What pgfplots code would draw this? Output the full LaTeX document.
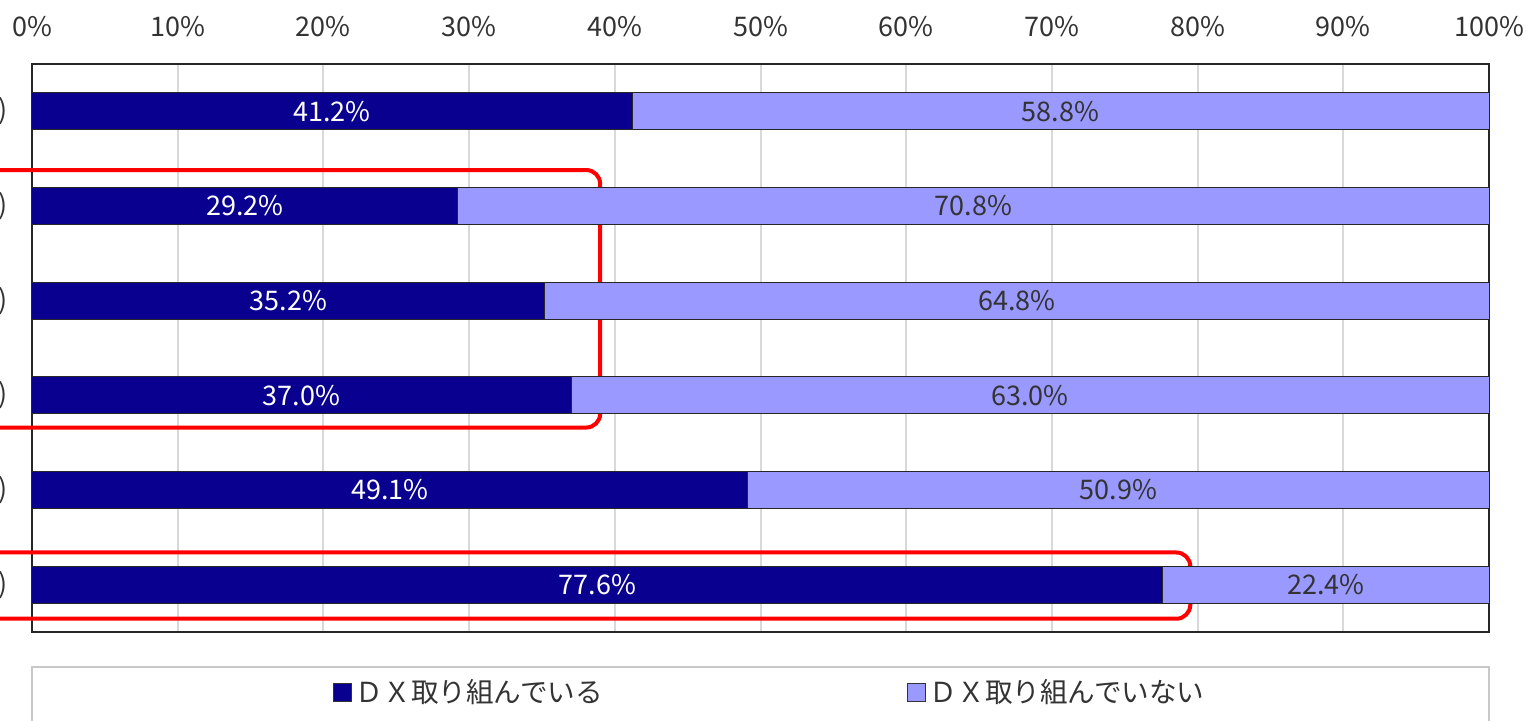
\documentclass[border=0pt]{standalone}
\usepackage{fontspec}
\setmainfont{Noto Sans CJK JP}
\usepackage{pgfplots}
\pgfplotsset{compat=1.18}
\definecolor{dx}{RGB}{10,0,144}
\definecolor{ndx}{RGB}{153,153,255}
\definecolor{gridc}{RGB}{217,217,217}
\definecolor{txt}{RGB}{51,51,51}
\definecolor{legbox}{RGB}{200,200,200}
\begin{document}
\begin{tikzpicture}
\path[use as bounding box] (-16pt,-44.5pt) rectangle (749pt,316pt);
\clip (-16pt,-44.5pt) rectangle (749pt,316pt);
\begin{axis}[
  name=ax,
  at={(0,0)}, anchor=south west,
  scale only axis, width=728.5pt, height=284pt,
  xbar stacked, bar width=18.5pt,
  xmin=0, xmax=100, ymin=-0.5, ymax=5.5, y dir=reverse,
  xtick={0,10,20,30,40,50,60,70,80,90,100},
  xticklabels={0\%,10\%,20\%,30\%,40\%,50\%,60\%,70\%,80\%,90\%,100\%},
  xticklabel pos=right,
  ytick={0,1,2,3,4,5},
  yticklabels={),),),),),)},
  major tick length=0pt,
  xmajorgrids, grid style={gridc, line width=1pt},
  axis line style={black!85, line width=0.8pt},
  tick label style={font=\fontsize{13.5}{16}\selectfont, text=txt},
  xticklabel style={yshift=10pt},
  yticklabel style={xshift=-8.5pt},
  clip=false,
  point meta=explicit,
  /pgf/number format/assume math mode=true,
  nodes near coords={\pgfmathprintnumber[fixed,fixed zerofill,precision=1,assume math mode=true]{\pgfplotspointmeta}\%},
  every node near coord/.append style={font=\fontsize{13.5}{16}\selectfont},
  legend columns=2,
  legend cell align=left,
  legend style={draw=none, fill=none, at={(0.507,0)}, anchor=center, yshift=-30pt,
    font=\fontsize{13.8}{16}\selectfont, text=txt,
    /tikz/every even column/.append style={column sep=150pt}},
  legend image code/.code={\draw[#1, draw=black!80, line width=0.5pt] (0pt,-4.5pt) rectangle (9pt,4.5pt);},
]
\addplot[fill=dx, draw=black!85, line width=0.5pt,
  every node near coord/.append style={text=white}]
  coordinates {(41.2,0) [41.2] (29.2,1) [29.2] (35.2,2) [35.2] (37.0,3) [37.0] (49.1,4) [49.1] (77.6,5) [77.6]};
\addlegendentry{ＤＸ取り組んでいる}
\addplot[fill=ndx, draw=black!85, line width=0.5pt,
  every node near coord/.append style={text=txt}]
  coordinates {(58.8,0) [58.8] (70.8,1) [70.8] (64.8,2) [64.8] (63.0,3) [63.0] (50.9,4) [50.9] (22.4,5) [22.4]};
\addlegendentry{ＤＸ取り組んでいない}
\draw[red, line width=2pt, rounded corners=7pt] (axis cs:-5,0.62) rectangle (axis cs:39.0,3.34);
\draw[red, line width=2pt, rounded corners=7pt] (axis cs:-5,4.66) rectangle (axis cs:79.5,5.36);
\end{axis}
\draw[legbox, line width=1pt] ([yshift=-17.5pt]ax.south west) rectangle ([yshift=-80pt]ax.south east);
\end{tikzpicture}
\end{document}
